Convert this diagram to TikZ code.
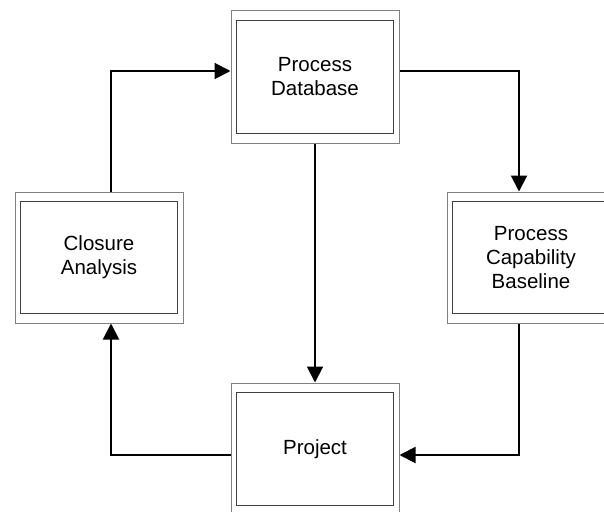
\documentclass[tikz,border=0pt]{standalone}
\usepackage{fontspec}
\setmainfont{Liberation Sans}
\usetikzlibrary{arrows.meta}
\definecolor{outergray}{HTML}{808080}
\definecolor{innergray}{HTML}{404040}
\tikzset{
  outerbox/.style={draw=outergray, line width=1pt, minimum width=168pt, minimum height=132pt,
    inner sep=0pt, align=center, font=\fontsize{20.5}{24}\selectfont},
  innerbox/.style={draw=innergray, line width=1pt},
  flow/.style={draw=black, line width=2pt, -{Triangle[length=16pt,width=16pt]}}
}
\begin{document}
\begin{tikzpicture}[x=1pt,y=-1pt]
\useasboundingbox (0,0) rectangle (604,511);
\node[outerbox] (pd) at (315,77) {Process\\Database};
\node[outerbox, minimum height=131pt] (pcb) at (531,257.5) {Process\\Capability\\Baseline};
\node[outerbox, minimum height=131pt] (ca) at (99,257.5) {Closure\\Analysis};
\node[outerbox] (pr) at (315,449) {Project};
\foreach \n in {pd,pcb,ca,pr}{
  \draw[innerbox] ([xshift=6pt,yshift=-10pt]\n.north west) rectangle ([xshift=-6pt,yshift=10pt]\n.south east);
}
\coordinate (c1) at (111,71);
\coordinate (c2) at (519,455);
\draw[flow] (ca.north -| c1) |- (pd.west |- c1);
\draw[flow] (pd.east |- c1) -| (pcb.north -| c2);
\draw[flow] (pd.south) -- (pr.north);
\draw[flow] (pcb.south -| c2) |- (pr.east |- c2);
\draw[flow] (pr.west |- c2) -| (ca.south -| c1);
\end{tikzpicture}
\end{document}
